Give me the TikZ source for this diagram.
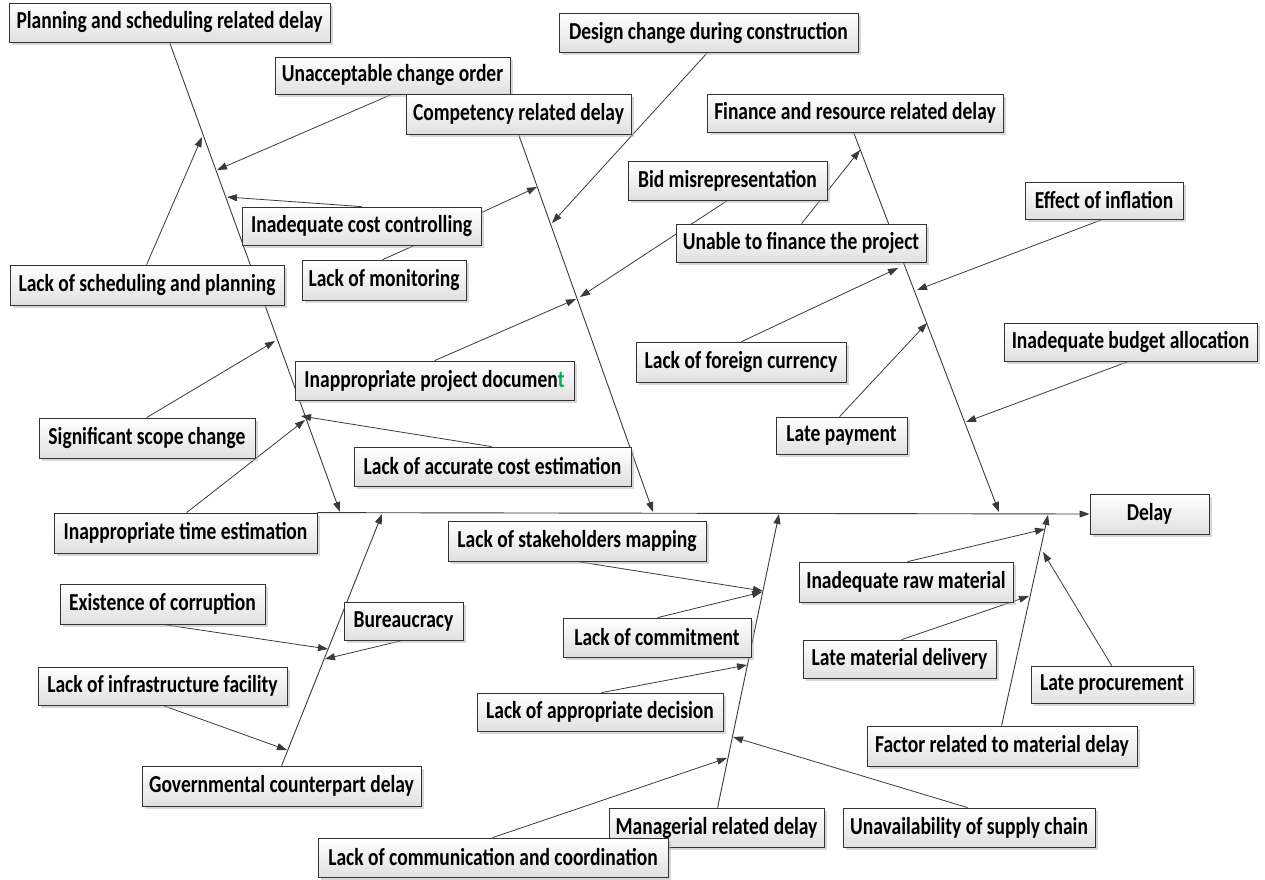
\documentclass[tikz,border=0pt]{standalone}
\usepackage{fontspec}
\usepackage{graphicx}
\setmainfont{Carlito}
\usetikzlibrary{arrows.meta,shadows,backgrounds,calc}
\definecolor{linegray}{HTML}{3A3A3A}
\definecolor{docgreen}{HTML}{00B050}
\tikzset{
  box/.style={draw=black!80, line width=0.8pt, top color=white, bottom color=black!12,
    drop shadow={shadow xshift=2.5pt, shadow yshift=-2.5pt, fill=black!30, opacity=0.5},
    inner sep=0pt, font=\fontsize{19.5}{20}\selectfont\bfseries, text=black},
  bone/.style={draw=linegray, line width=0.9pt, -{Triangle[length=10pt,width=7pt]}},
  twig/.style={draw=linegray, line width=0.8pt, -{Triangle[length=10pt,width=7pt]}},
  link/.style={draw=linegray, line width=0.8pt},
}
% \causebox{name}{x1}{y1}{x2}{y2}{text}: a cause box given by its corners
\newcommand\causebox[6]{%
  \pgfmathsetmacro\bw{#4-#2}\pgfmathsetmacro\bh{#5-#3}%
  \node[box, minimum width=\bw pt, minimum height=\bh pt] (#1) at ({(#2+#4)/2},{(#3+#5)/2}) {\scalebox{1}[1.25]{#6}};}
\begin{document}
\begin{tikzpicture}[x=1pt, y=-1pt]
\useasboundingbox (0,0) rectangle (1265,879);

% upper causes
\causebox{plan}{9}{3}{330}{42}{Planning and scheduling related delay}
\causebox{uco}{275}{57}{510}{94}{Unacceptable change order}
\causebox{comp}{406}{94}{631}{134}{Competency related delay}
\causebox{dsg}{559}{13}{858}{52}{Design change during construction}
\causebox{fin}{707}{94}{1003}{132}{Finance and resource related delay}
\causebox{bid}{628}{161}{827}{200}{Bid misrepresentation}
\causebox{utf}{676}{224}{926}{262}{Unable to finance the project}
\causebox{eoi}{1025}{182}{1183}{219}{Effect of inflation}
\causebox{iba}{1004}{323}{1257}{361}{Inadequate budget allocation}
\causebox{icc}{242}{207}{481}{245}{Inadequate cost controlling}
\causebox{mon}{302}{260}{466}{300}{Lack of monitoring}
\causebox{lsp}{10}{265}{284}{305}{Lack of scheduling and planning}
\causebox{ipd}{295}{361}{574}{400}{Inappropriate project documen{\color{docgreen}t}}
\causebox{ssc}{39}{418}{255}{458}{Significant scope change}
\causebox{ace}{354}{447}{631}{486}{Lack of accurate cost estimation}
\causebox{tim}{54}{513}{317}{553}{Inappropriate time estimation}
\causebox{lfc}{636}{342}{846}{382}{Lack of foreign currency}
\causebox{lpy}{776}{417}{907}{454}{Late payment}
\causebox{delay}{1090}{494}{1209}{534}{Delay}

% lower causes
\causebox{lsm}{448}{521}{706}{561}{Lack of stakeholders mapping}
\causebox{eoc}{60}{584}{265}{624}{Existence of corruption}
\causebox{bur}{344}{602}{463}{640}{Bureaucracy}
\causebox{lif}{38}{667}{287}{705}{Lack of infrastructure facility}
\causebox{gov}{142}{766}{421}{806}{Governmental counterpart delay}
\causebox{lcm}{563}{618}{751}{657}{Lack of commitment}
\causebox{lad}{477}{693}{723}{731}{Lack of appropriate decision}
\causebox{man}{609}{808}{824}{847}{Managerial related delay}
\causebox{lcc}{318}{838}{668}{877}{Lack of communication and coordination}
\causebox{usc}{843}{808}{1095}{847}{Unavailability of supply chain}
\causebox{irm}{799}{562}{1013}{602}{Inadequate raw material}
\causebox{lmd}{803}{640}{996}{678}{Late material delivery}
\causebox{lpr}{1031}{666}{1193}{703}{Late procurement}
\causebox{mat}{867}{726}{1137}{766}{Factor related to material delay}

% points where the main bones meet the spine
\coordinate (b-plan) at (340,512);
\coordinate (b-comp) at (653,512);
\coordinate (b-fin)  at (999,512);
\coordinate (b-gov)  at (382,514);
\coordinate (b-man)  at (779,514);
\coordinate (b-mat)  at (1048,515);

% points where the causes meet their bones
\coordinate (t-uco) at (217,170);
\coordinate (t-icc) at (227,197);
\coordinate (t-icc2) at (537,187);
\coordinate (t-lsp) at (202,137);
\coordinate (t-ssc) at (275,341);
\coordinate (t-tim) at (305,420);
\coordinate (t-ace) at (301,416);
\coordinate (t-dsg) at (552,223);
\coordinate (t-bid) at (580,297);
\coordinate (t-ipd) at (576,299);
\coordinate (t-utf) at (860,150);
\coordinate (t-lfc) at (898,268);
\coordinate (t-eoi) at (917,290);
\coordinate (t-lpy) at (927,323);
\coordinate (t-iba) at (966,422);
\coordinate (t-eoc) at (328,649);
\coordinate (t-bur) at (325,659);
\coordinate (t-lif) at (287,750);
\coordinate (t-lsm) at (763,591);
\coordinate (t-lcm) at (762,592);
\coordinate (t-lad) at (747,665);
\coordinate (t-lcc) at (727,758);
\coordinate (t-usc) at (733,737);
\coordinate (t-irm) at (1045,529);
\coordinate (t-lmd) at (1029,596);
\coordinate (t-lpr) at (1043,552);

\begin{scope}[on background layer]
  % spine
  \draw[bone] (tim.north east) -- (delay.west);
  % main bones
  \draw[bone] ($(plan.south west)+(161,0)$) -- (b-plan);
  \draw[bone] ($(comp.south west)+(113,0)$) -- (b-comp);
  \draw[bone] ($(fin.south west)+(147,0)$) -- (b-fin);
  \draw[bone] ($(gov.north west)+(140,0)$) -- (b-gov);
  \draw[bone] ($(man.north west)+(109,0)$) -- (b-man);
  \draw[bone] ($(mat.north west)+(135,0)$) -- (b-mat);
  % planning and scheduling
  \draw[twig] ($(uco.south west)+(117,0)$) -- (t-uco);
  \draw[twig] ($(icc.north west)+(120,0)$) -- (t-icc);
  \draw[twig] ($(lsp.north west)+(137,0)$) -- (t-lsp);
  \draw[twig] ($(ssc.north west)+(108,0)$) -- (t-ssc);
  \draw[twig] ($(tim.north west)+(133,0)$) -- (t-tim);
  \draw[twig] ($(ace.north west)+(138,0)$) -- (t-ace);
  \draw[link] ($(mon.north west)+(81,0)$) -- ($(icc.south west)+(173,0)$);
  % competency
  \draw[twig] ($(icc.north east)+(0,6)$) -- (t-icc2);
  \draw[twig] ($(dsg.south west)+(149,0)$) -- (t-dsg);
  \draw[twig] ($(bid.south west)+(100,0)$) -- (t-bid);
  \draw[twig] ($(ipd.north west)+(140,0)$) -- (t-ipd);
  % finance and resource
  \draw[twig] ($(utf.north west)+(126,0)$) -- (t-utf);
  \draw[twig] ($(lfc.north west)+(106,0)$) -- (t-lfc);
  \draw[twig] ($(eoi.south west)+(78,0)$) -- (t-eoi);
  \draw[twig] ($(lpy.north west)+(64,0)$) -- (t-lpy);
  \draw[twig] ($(iba.south west)+(125,0)$) -- (t-iba);
  % governmental counterpart
  \draw[twig] ($(eoc.south west)+(103,0)$) -- (t-eoc);
  \draw[twig] ($(bur.south west)+(59,0)$) -- (t-bur);
  \draw[twig] ($(lif.south west)+(125,0)$) -- (t-lif);
  % managerial
  \draw[twig] ($(lsm.south west)+(129,0)$) -- (t-lsm);
  \draw[twig] ($(lcm.north west)+(95,0)$) -- (t-lcm);
  \draw[twig] ($(lad.north west)+(125,0)$) -- (t-lad);
  \draw[twig] ($(lcc.north west)+(175,0)$) -- (t-lcc);
  \draw[twig] ($(usc.north west)+(125,0)$) -- (t-usc);
  % material
  \draw[twig] ($(irm.north west)+(109,0)$) -- (t-irm);
  \draw[twig] ($(lmd.north west)+(99,0)$) -- (t-lmd);
  \draw[twig] ($(lpr.north west)+(81,0)$) -- (t-lpr);
\end{scope}
\end{tikzpicture}
\end{document}
